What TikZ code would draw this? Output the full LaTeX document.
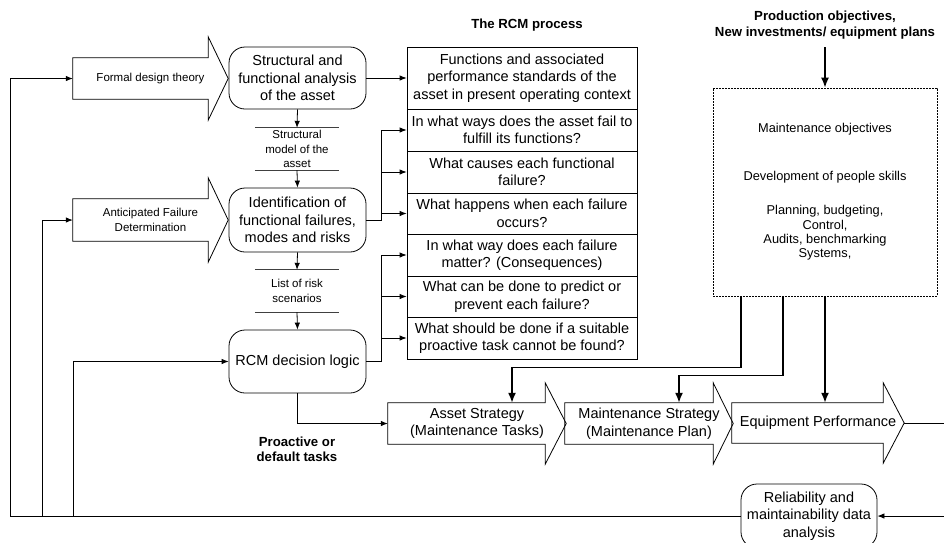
\documentclass[tikz,border=0pt]{standalone}
\usepackage{fontspec}
\setmainfont{Liberation Sans}
\usetikzlibrary{arrows.meta}

% outline of a block arrow drawn round a node that spans body and tip
% #1 node name, #2 tip length, #3 how far the head stands out of the body
\newcommand\drawblock[3]{%
  \draw[line width=0.8pt, line join=miter]
    (#1.north west) -- ([xshift=-#2]#1.north east)
    -- ([xshift=-#2,yshift=#3]#1.north east) -- (#1.east)
    -- ([xshift=-#2,yshift=-#3]#1.south east) -- ([xshift=-#2]#1.south east)
    -- (#1.south west) -- cycle;}

\begin{document}
\begin{tikzpicture}[x=1pt,y=-1pt,
  big/.style={font=\fontsize{14.5}{17.5}\selectfont, align=center, inner sep=0pt},
  small/.style={font=\fontsize{11.5}{14.5}\selectfont, align=center, inner sep=0pt},
  mtext/.style={font=\fontsize{12.8}{14.3}\selectfont, align=center, inner sep=0pt},
  title/.style={font=\bfseries\fontsize{13.2}{15.5}\selectfont, align=center, inner sep=0pt},
  rbox/.style={draw, line width=0.8pt, rounded corners=16pt, big, minimum width=137pt},
  qbox/.style={draw, line width=0.8pt, big, minimum width=230pt},
  blk/.style={big},
  store/.style={small, minimum width=84pt, minimum height=42pt},
  conn/.style={-{Latex[length=7pt,width=5.5pt]}, line width=0.8pt},
  heavy/.style={-{Latex[length=10pt,width=8pt]}, line width=1.6pt},
]
\useasboundingbox (0,0) rectangle (944,542);
\clip (0,0) rectangle (944,542);

% titles
\node[title] (rcmtitle) at (527,25) {The RCM process};
\node[title] (prod) at (825,25) {Production objectives,\\New investments/ equipment plans};

% block arrows on the left
\node[blk, small, minimum width=155pt, minimum height=41pt] (formal) at (150.5,78.5) {Formal design theory};
\drawblock{formal}{20pt}{21pt}
\node[blk, small, minimum width=155pt, minimum height=42pt] (anticip) at (150.5,220) {Anticipated Failure\\Determination};
\drawblock{anticip}{20pt}{21pt}

% main column of rounded steps
\node[rbox, minimum height=62pt] (sfa) at (297.5,78) {Structural and\\functional analysis\\of the asset};
\node[rbox, minimum height=64pt] (ident) at (297.5,220) {Identification of\\functional failures,\\modes and risks};
\node[rbox, minimum height=63pt] (rcm) at (297.5,361.5) {RCM decision logic};

% intermediate data stores
\node[store] (sm) at (297,149) {Structural\\model of the\\asset};
\draw[line width=0.8pt, black!75] (sm.north west) -- (sm.north east) (sm.south west) -- (sm.south east);
\node[store] (lr) at (297,291) {List of risk\\scenarios};
\draw[line width=0.8pt, black!75] (lr.north west) -- (lr.north east) (lr.south west) -- (lr.south east);

\draw[conn] (sfa.south) -- (sm.north);
\draw[conn] (sm.south) -- (ident.north);
\draw[conn] (ident.south) -- (lr.north);
\draw[conn] (lr.south) -- (rcm.north);

% the seven RCM questions
\node[qbox, minimum height=62pt] (q1) at (522,78) {Functions and associated\\performance standards of the\\asset in present operating context};
\node[qbox, minimum height=42pt] (q2) at (522,130) {In what ways does the asset fail to\\fulfill its functions?};
\node[qbox, minimum height=42pt] (q3) at (522,172) {What causes each functional\\failure?};
\node[qbox, minimum height=41pt] (q4) at (522,213.5) {What happens when each failure\\occurs?};
\node[qbox, minimum height=42pt] (q5) at (522,255) {In what way does each failure\\matter? (Consequences)};
\node[qbox, minimum height=41pt] (q6) at (522,296.5) {What can be done to predict or\\prevent each failure?};
\node[qbox, minimum height=42pt] (q7) at (522,338) {What should be done if a suitable\\proactive task cannot be found?};

\coordinate (bx) at (381,0);
\draw[conn] (sfa.east) -- (q1.west);
\draw[conn] (ident.east) -- (bx |- ident.east) |- (q2.west);
\draw[conn] (bx |- ident.east) |- (q3.west);
\draw[conn] (bx |- ident.east) |- (q4.west);
\draw[conn] (rcm.east) -- (bx |- rcm.east) |- (q5.west);
\draw[conn] (bx |- rcm.east) |- (q6.west);
\draw[conn] (bx |- rcm.east) |- (q7.west);

% maintenance management frame
\node[draw, line width=0.7pt, dash pattern=on 2pt off 1pt, minimum width=224pt, minimum height=208pt, inner sep=0pt] (mbox) at (825,192) {};
\node[mtext] (mo) at (825,129) {Maintenance objectives};
\node[mtext] (dp) at (825,177) {Development of people skills};
\node[mtext] (pb) at (825,233) {Planning, budgeting,\\Control,\\Audits, benchmarking\\Systems,};
\draw[heavy, shorten <=8pt] (prod.south) -- (mbox.north);

% strategy chain
\node[blk, minimum width=178pt, minimum height=41pt] (asset) at (477,423.5) {Asset Strategy\\(Maintenance Tasks)};
\drawblock{asset}{21pt}{20pt}
\node[blk, minimum width=168pt, minimum height=41pt] (maint) at (649,423.5) {Maintenance Strategy\\(Maintenance Plan)};
\drawblock{maint}{20pt}{20pt}
\node[blk, minimum width=172pt, minimum height=40pt] (equip) at (818,423) {Equipment Performance};
\drawblock{equip}{21pt}{20pt}

\draw[heavy] ([xshift=-84pt]mbox.south) -- ++(0,71) -| ([xshift=35pt]asset.north);
\draw[heavy] ([xshift=-42pt]mbox.south) -- ++(0,79) -| ([xshift=30pt]maint.north);
\draw[heavy] (mbox.south) -- (equip.north -| mbox.south);

\draw[conn] (rcm.south) |- (asset.west);
\node[title] (pro) at (297,449.5) {Proactive or\\default tasks};

% feedback from the data analysis
\node[rbox, minimum width=136pt, minimum height=64pt] (rel) at (809,516) {Reliability and\\maintainability data\\analysis};
\coordinate (rx1) at (944,423);
\coordinate (rx2) at (944,516);
\draw[line width=0.8pt] (equip.east) -- (rx1);
\draw[conn] (rx2) -- (rel.east);

\coordinate (fb1) at (10,516);
\coordinate (fb2) at (42,516);
\coordinate (fb3) at (73,516);
\draw[conn] (rel.west) -- (fb1) |- (formal.west);
\draw[conn] (fb2) |- (anticip.west);
\draw[conn] (fb3) |- (rcm.west);
\end{tikzpicture}
\end{document}
